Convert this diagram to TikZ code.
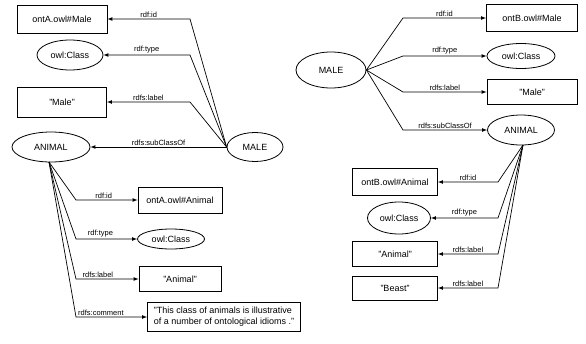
\documentclass[tikz,border=0pt]{standalone}
\usepackage{fontspec}
\setmainfont{Liberation Sans}
\usetikzlibrary{shapes.geometric}

\tikzstyle{lit} = [draw, rectangle, line width=0.8pt, inner sep=1pt, font=\fontsize{9}{11}\selectfont]
\tikzstyle{cls} = [draw, ellipse, line width=0.8pt, inner sep=0pt, font=\fontsize{9}{11}\selectfont]
\tikzstyle{prop} = [above, inner sep=1.5pt, font=\fontsize{7.5}{8}\selectfont]
\tikzstyle{rel} = [->, >=latex, line width=0.7pt]

\begin{document}
\begin{tikzpicture}[x=1pt, y=-1pt]
\useasboundingbox (0,0) rectangle (586,343);

% ontology A
\node[lit, minimum width=90pt, minimum height=28pt] (idMaleA) at (62,19) {ontA.owl\#Male};
\node[cls, minimum width=66pt, minimum height=30pt] (classMaleA) at (70,55) {owl:Class};
\node[lit, minimum width=89pt, minimum height=30pt] (labelMaleA) at (62,102) {"Male"};
\node[cls, minimum width=78pt, minimum height=30pt] (animalA) at (51,147) {ANIMAL};
\node[cls, minimum width=56pt, minimum height=29pt] (maleA) at (255,147) {MALE};
\node[lit, minimum width=84pt, minimum height=26pt] (idAnimalA) at (180,200) {ontA.owl\#Animal};
\node[cls, minimum width=67pt, minimum height=20pt] (classAnimalA) at (171,239) {owl:Class};
\node[lit, minimum width=82pt, minimum height=25pt] (labelAnimalA) at (180,279) {"Animal"};
\node[lit, minimum width=153pt, minimum height=29pt, align=left] (commentA) at (224,317)
    {"This class of animals is illustrative\\ of a number of ontological idioms ."};

\coordinate (kA) at (190,0);
\coordinate (kB) at (76,0);
\coordinate (fanA) at (49,162);

\draw[rel] (maleA.west) -- (idMaleA -| kA) -- node[prop]{rdf:id} (idMaleA);
\draw[rel] (maleA.west) -- (classMaleA -| kA) -- node[prop]{rdf:type} (classMaleA);
\draw[rel] (maleA.west) -- (labelMaleA -| kA) -- node[prop]{rdfs:label} (labelMaleA);
\draw[rel] (maleA) -- node[prop]{rdfs:subClassOf} (animalA);

\draw[rel] (fanA) -- (idAnimalA -| kB) -- node[prop, pos=0.45]{rdf:id} (idAnimalA);
\draw[rel] (fanA) -- (classAnimalA -| kB) -- node[prop, pos=0.4]{rdf:type} (classAnimalA);
\draw[rel] (fanA) -- (labelAnimalA -| kB) -- node[prop, pos=0.35]{rdfs:label} (labelAnimalA);
\draw[rel] (fanA) -- (commentA -| kB) -- node[prop, pos=0.35]{rdfs:comment} (commentA);

% ontology B
\node[cls, minimum width=70pt, minimum height=36pt] (maleB) at (331,70) {MALE};
\node[lit, minimum width=91pt, minimum height=27pt] (idMaleB) at (532,18) {ontB.owl\#Male};
\node[cls, minimum width=68pt, minimum height=25pt] (classMaleB) at (521,56) {owl:Class};
\node[lit, minimum width=90pt, minimum height=25pt] (labelMaleB) at (532,92) {"Male"};
\node[cls, minimum width=67pt, minimum height=30pt] (animalB) at (521,130) {ANIMAL};
\node[lit, minimum width=85pt, minimum height=27pt] (idAnimalB) at (395,182) {ontB.owl\#Animal};
\node[cls, minimum width=63pt, minimum height=32pt] (classAnimalB) at (399,218) {owl:Class};
\node[lit, minimum width=85pt, minimum height=25pt] (labelAnimalB) at (395,254) {"Animal"};
\node[lit, minimum width=85pt, minimum height=24pt] (beastB) at (395,288) {"Beast"};

\coordinate (kC) at (403,0);
\coordinate (kD) at (498,0);
\coordinate (fanB) at (523,145);

\draw[rel] (maleB.east) -- (idMaleB -| kC) -- node[prop]{rdf:id} (idMaleB);
\draw[rel] (maleB.east) -- (classMaleB -| kC) -- node[prop]{rdf:type} (classMaleB);
\draw[rel] (maleB.east) -- (labelMaleB -| kC) -- node[prop]{rdfs:label} (labelMaleB);
\draw[rel] (maleB.east) -- (animalB -| kC) -- node[prop]{rdfs:subClassOf} (animalB);

\draw[rel] (fanB) -- (idAnimalB -| kD) -- node[prop]{rdf:id} (idAnimalB);
\draw[rel] (fanB) -- (classAnimalB -| kD) -- node[prop]{rdf:type} (classAnimalB);
\draw[rel] (fanB) -- (labelAnimalB -| kD) -- node[prop]{rdfs:label} (labelAnimalB);
\draw[rel] (fanB) -- (beastB -| kD) -- node[prop]{rdfs:label} (beastB);
\end{tikzpicture}
\end{document}
